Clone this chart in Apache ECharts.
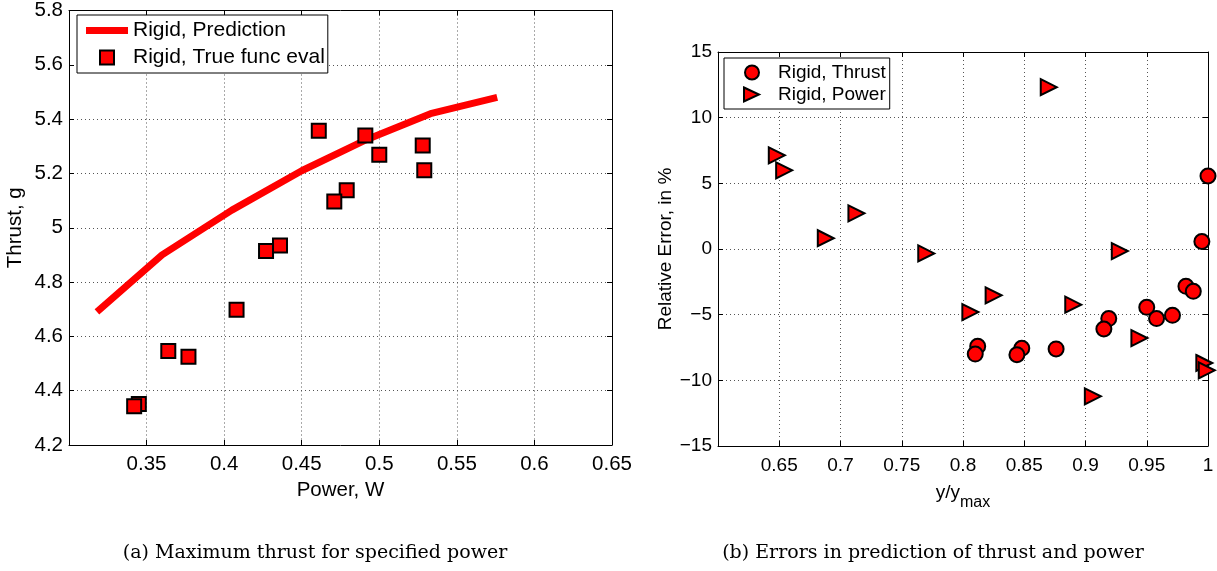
<!DOCTYPE html>
<html><head><meta charset="utf-8">
<script src="https://cdn.jsdelivr.net/npm/echarts@6/dist/echarts.min.js"></script>
<style>html,body{margin:0;padding:0;background:#fff}#c{width:1217px;height:571px}</style>
</head><body><div id="c"></div>
<script>
// (a) Maximum thrust for specified power
const predPower  = [0.318, 0.360, 0.405, 0.450, 0.490, 0.533, 0.576];
const predThrust = [4.690, 4.900, 5.065, 5.210, 5.320, 5.420, 5.480];
const truePower  = [0.461, 0.491, 0.500, 0.528, 0.529, 0.479, 0.471, 0.436, 0.427, 0.408, 0.364, 0.377, 0.345, 0.342];
const trueThrust = [5.357, 5.340, 5.269, 5.303, 5.212, 5.138, 5.097, 4.935, 4.914, 4.698, 4.546, 4.525, 4.351, 4.343];
// (b) Errors in prediction of thrust and power
const thrustRatio = [1.000, 0.995, 0.982, 0.988, 0.950, 0.958, 0.971, 0.919, 0.915, 0.812, 0.810, 0.848, 0.844, 0.876];
const thrustErr   = [5.56, 0.57, -2.84, -3.22, -4.44, -5.30, -5.05, -5.30, -6.09, -7.41, -8.00, -7.56, -8.05, -7.61];
const powerRatio  = [0.648, 0.654, 0.688, 0.713, 0.770, 0.870, 0.928, 0.806, 0.825, 0.890, 0.944, 0.906, 0.997, 0.999];
const powerErr    = [7.13, 5.99, 0.82, 2.72, -0.34, 12.32, -0.16, -4.80, -3.53, -4.24, -6.78, -11.22, -8.68, -9.24];
const leftXTicks  = {min: 0.3, max: 0.65, step: 0.05};
const leftYTicks  = {min: 4.2, max: 5.8, step: 0.2};
const rightXTicks = {min: 0.6, max: 1.0, step: 0.05};
const rightYTicks = {min: -15, max: 15, step: 5};

const zip = (a, b) => a.map((v, i) => [v, b[i]]);
const SANS = '"Liberation Sans", Arial, Helvetica, sans-serif';
const FSL = 20.5;  // left panel
const FSR = 19;    // right panel

function baseAxis(t, grid, pos, main, fmt, fs) {
  return {
    type: 'value', gridIndex: grid, position: pos,
    min: t.min, max: t.max, interval: t.step,
    axisLine: {show: true, onZero: false, lineStyle: {color: '#000', width: 1}},
    axisTick: {show: true, inside: true, length: 5, lineStyle: {color: '#000', width: 1}},
    axisLabel: {show: main, color: '#000', fontSize: fs, fontFamily: SANS, formatter: fmt},
    splitLine: {show: main, lineStyle: {color: '#555', width: 1, type: [1, 3]}}
  };
}
const fmtHideMin = (minV, dec) => v => (Math.abs(v - minV) < 1e-9 ? '' : String(+v.toFixed(dec)));
const fmtY1 = v => String(+v.toFixed(1));
const fmtY2 = v => String(Math.round(v)).replace('-', '\u2212');

const x0 = baseAxis(leftXTicks, 0, 'bottom', true, fmtHideMin(0.3, 2), FSL);
Object.assign(x0, {name: 'Power, W', nameLocation: 'middle', nameGap: 29,
  nameTextStyle: {color: '#000', fontSize: FSL, fontFamily: SANS}});
x0.axisLabel.margin = 9;
const x1 = baseAxis(leftXTicks, 0, 'top', false);
const x2 = baseAxis(rightXTicks, 1, 'bottom', true, fmtHideMin(0.6, 2), FSR);
Object.assign(x2, {name: 'y/y{sub|max}', nameLocation: 'middle', nameGap: 29,
  nameTextStyle: {color: '#000', fontSize: FSR, fontFamily: SANS,
    rich: {sub: {fontSize: 16, fontFamily: SANS, color: '#000', padding: [20, 0, 0, 0]}}}});
x2.axisLabel.margin = 10;
const x3 = baseAxis(rightXTicks, 1, 'top', false);

const y0 = baseAxis(leftYTicks, 0, 'left', true, fmtY1, FSL);
Object.assign(y0, {name: 'Thrust, g', nameLocation: 'middle', nameGap: 43,
  nameTextStyle: {color: '#000', fontSize: FSL, fontFamily: SANS}});
y0.axisLabel.margin = 6;
const y1 = baseAxis(leftYTicks, 0, 'right', false);
const y2 = baseAxis(rightYTicks, 1, 'left', true, fmtY2, FSR);
Object.assign(y2, {name: 'Relative Error, in %', nameLocation: 'middle', nameGap: 43,
  nameTextStyle: {color: '#000', fontSize: FSR, fontFamily: SANS}});
y2.axisLabel.margin = 6;
const y3 = baseAxis(rightYTicks, 1, 'right', false);

// icons padded to the full 42x14 item box so markers sit centred on the sample
const ICON_LINE = 'path://M0,3.5H42V10.5H0Z';
const ICON_SQ   = 'path://M0,0M42,14M14,0H28V14H14Z';
const ICON_CIR  = 'path://M0,0M42,14M14,7A7,7,0,1,1,28,7A7,7,0,1,1,14,7Z';
const ICON_TRI  = 'path://M0,0M42,14M13,0L28,7L13,14Z';

const legendCommon = {
  orient: 'vertical', backgroundColor: '#fff', borderColor: '#000', borderWidth: 1,
  itemWidth: 42, itemHeight: 14, selectedMode: false
};

const option = {
  backgroundColor: '#fff',
  animation: false,
  grid: [
    {left: 69, right: 605, top: 8, bottom: 126},
    {left: 718, right: 9, top: 52, bottom: 125}
  ],
  xAxis: [x0, x1, x2, x3],
  yAxis: [y0, y1, y2, y3],
  legend: [
    Object.assign({left: 77, top: 15, padding: [5, 3, 5, 8], itemGap: 6,
      textStyle: {color: '#000', fontSize: 21, fontFamily: SANS}, data: [
      {name: 'Rigid, Prediction', icon: ICON_LINE, itemStyle: {color: '#ff0000', borderWidth: 0}},
      {name: 'Rigid, True func eval', icon: ICON_SQ, itemStyle: {color: '#ff0000', borderColor: '#000', borderWidth: 2}}
    ]}, legendCommon),
    Object.assign({left: 724, top: 58, padding: [5, 4, 5, 6], itemGap: 3,
      textStyle: {color: '#000', fontSize: FSR, fontFamily: SANS}, data: [
      {name: 'Rigid, Thrust', icon: ICON_CIR, itemStyle: {color: '#ff0000', borderColor: '#000', borderWidth: 2}},
      {name: 'Rigid, Power', icon: ICON_TRI, itemStyle: {color: '#ff0000', borderColor: '#000', borderWidth: 2}}
    ]}, legendCommon)
  ],
  series: [
    {name: 'Rigid, Prediction', type: 'line', xAxisIndex: 0, yAxisIndex: 0, data: zip(predPower, predThrust),
      showSymbol: false, symbol: 'none', lineStyle: {color: '#ff0000', width: 7}, itemStyle: {color: '#ff0000'}, z: 2},
    {name: 'Rigid, True func eval', type: 'scatter', xAxisIndex: 0, yAxisIndex: 0, data: zip(truePower, trueThrust),
      symbol: 'rect', symbolSize: 14, itemStyle: {color: '#ff0000', borderColor: '#000', borderWidth: 2, opacity: 1}, z: 3},
    {name: 'Rigid, Thrust', type: 'scatter', xAxisIndex: 2, yAxisIndex: 2, data: zip(thrustRatio, thrustErr),
      symbol: 'circle', symbolSize: 15, itemStyle: {color: '#ff0000', borderColor: '#000', borderWidth: 2, opacity: 1}, z: 3},
    {name: 'Rigid, Power', type: 'scatter', xAxisIndex: 2, yAxisIndex: 2, data: zip(powerRatio, powerErr),
      symbol: 'path://M0,0L10,5L0,10Z', symbolSize: 16, itemStyle: {color: '#ff0000', borderColor: '#000', borderWidth: 2, opacity: 1}, z: 3}
  ],
  graphic: [
    {type: 'text', x: 315, y: 553, style: {text: '(a) Maximum thrust for specified power',
      font: '19px "DejaVu Serif", serif', fill: '#000', textAlign: 'center', textVerticalAlign: 'middle', verticalAlign: 'middle'}},
    {type: 'text', x: 933, y: 553, style: {text: '(b) Errors in prediction of thrust and power',
      font: '19px "DejaVu Serif", serif', fill: '#000', textAlign: 'center', textVerticalAlign: 'middle', verticalAlign: 'middle'}}
  ]
};
const chart = echarts.init(document.getElementById('c'), null, {renderer: 'canvas'});
chart.setOption(option);
</script>
</body></html>
